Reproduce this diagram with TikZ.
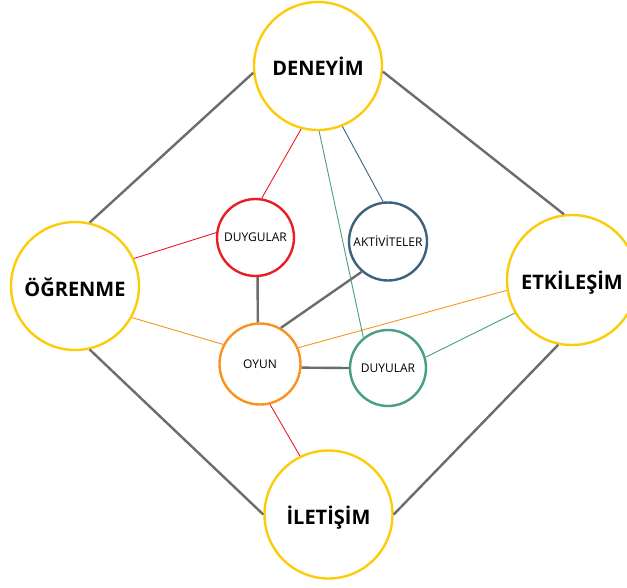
\documentclass[tikz,border=0pt]{standalone}
\usepackage{fontspec}
\setmainfont{Open Sans}
\definecolor{ringyellow}{RGB}{252,204,10}
\definecolor{linkgray}{RGB}{108,108,108}
\definecolor{cred}{RGB}{236,28,36}
\definecolor{corange}{RGB}{247,148,29}
\definecolor{cblue}{RGB}{62,98,124}
\definecolor{cteal}{RGB}{72,158,128}
% lower a label by half of #1 inside its circle
\newcommand{\lowerlabel}[2]{\raisebox{0pt}[\dimexpr\height+#1\relax]{#2}}
\tikzset{
  bigring/.style={circle, draw=ringyellow, line width=2.4pt, fill=white,
    minimum size=128pt, inner sep=0pt, font=\fontsize{20}{24}\selectfont\bfseries},
  smallring/.style={circle, line width=2.4pt, fill=white,
    inner sep=0pt, font=\fontsize{12}{14}\selectfont},
  thick link/.style={draw=linkgray, line width=2.4pt},
  thin link/.style={line width=0.9pt},
}
\begin{document}
\begin{tikzpicture}[x=1pt, y=-1pt]
  \useasboundingbox (0,0) rectangle (627,587);
  \clip (0,0) rectangle (627,587);

  % main concepts
  \node[bigring] (den) at (318,66) {DENEYİM};
  \node[bigring] (ogr) at (75,286) {\lowerlabel{2pt}{ÖĞRENME}};
  \node[bigring, minimum size=130pt] (etk) at (572,280) {\lowerlabel{5pt}{ETKİLEŞİM}};
  \node[bigring] (ile) at (328.5,514.5) {\lowerlabel{6pt}{İLETİŞİM}};

  % inner concepts
  \node[smallring, draw=cred, minimum size=77pt] (duyg) at (255.5,237.5) {DUYGULAR};
  \node[smallring, draw=cblue, minimum size=78pt] (akt) at (388,241.5) {AKTİVİTELER};
  \node[smallring, draw=corange, minimum size=81pt] (oyun) at (260,364) {OYUN};
  \node[smallring, draw=cteal, minimum size=76pt] (duyu) at (388,368) {DUYULAR};

  % outer diamond
  \draw[thick link] (den.186) -- (ogr.77);
  \draw[thick link] (den.355) -- (etk.97);
  \draw[thick link] (ogr.283) -- (ile.180);
  \draw[thick link] (etk.258) -- (ile.0);

  % links around OYUN
  \draw[thick link] (duyg.273) -- (oyun.93);
  \draw[thick link] (akt.229) -- (oyun.60);
  \draw[thick link] (oyun.355) -- (duyu.180);

  % coloured links
  \draw[thin link, draw=cred] (den.255) -- (duyg.81);
  \draw[thin link, draw=cred] (ogr.25) -- (duyg.173);
  \draw[thin link, draw=cred] (oyun.284) -- (ile.116);
  \draw[thin link, draw=corange] (ogr.331) -- (oyun.152);
  \draw[thin link, draw=corange] (oyun.23.5) -- (etk.189);
  \draw[thin link, draw=cblue] (den.292) -- (akt.97);
  \draw[thin link, draw=cteal] (den.271) -- (duyu.129);
  \draw[thin link, draw=cteal] (duyu.16.5) -- (etk.210.5);
\end{tikzpicture}
\end{document}
